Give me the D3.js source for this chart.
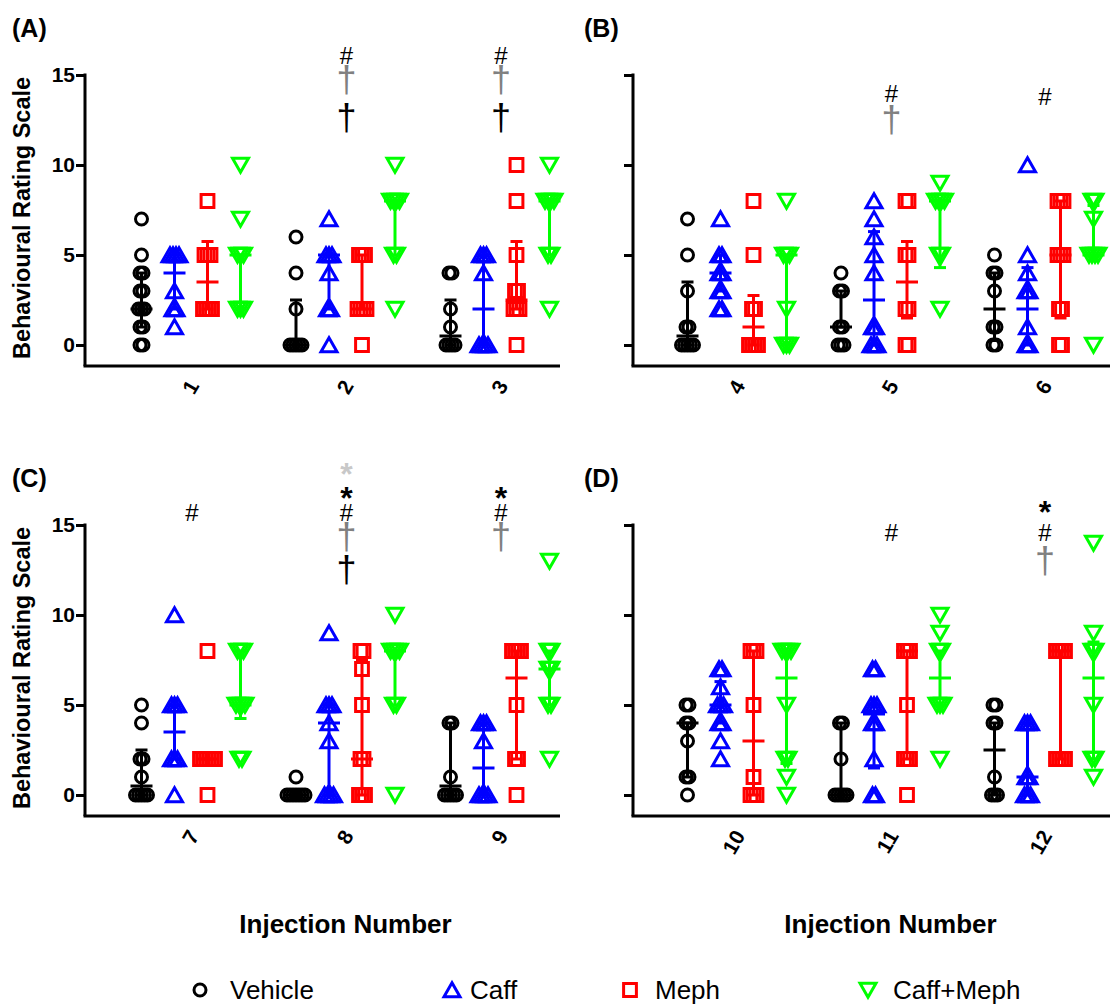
<!DOCTYPE html>
<html><head><meta charset="utf-8">
<script src="https://cdn.jsdelivr.net/npm/d3@7"></script>
<style>body{margin:0;background:#fff}svg{display:block}text{font-family:"Liberation Sans",Arial,sans-serif}</style>
</head><body><svg id="c" width="1118" height="1007"></svg>
<script>
// ---------- DATA ----------
const injections = [1,2,3,4,5,6,7,8,9,10,11,12];
const groups = ["Vehicle","Caff","Meph","Caff+Meph"];
const yTicks = [0,5,10,15];
const panelLabels = ["(A)","(B)","(C)","(D)"];
const xTitle = "Injection Number";
const yTitle = "Behavioural Rating Scale";

const vehicle = [
  [7,5,4,4,3,3,2,2,2,1,1,0,0],
  [6,4,2,0,0,0,0,0],
  [4,4,2,1,0,0,0,0],
  [7,5,3,1,1,0,0,0,0,0],
  [4,3,3,1,1,0,0,0],
  [5,4,4,3,1,1,0,0],
  [5,4,2,2,1,0,0,0,0,0],
  [1,0,0,0,0,0,0,0],
  [4,4,1,0,0,0,0,0],
  [5,5,4,4,3,1,1,0],
  [4,4,2,0,0,0,0,0],
  [5,5,4,4,1,0,0,0]
];
const caff = [
  [5,5,5,5,3,2,2,1],
  [7,5,5,5,4,2,2,0],
  [5,5,5,4,0,0,0,0],
  [7,5,5,4,4,3,3,2,2],
  [8,7,6,5,4,1,1,0,0,0],
  [10,5,4,3,3,1,0,0],
  [10,5,5,5,2,2,2,0],
  [9,5,5,5,4,3,0,0,0,0],
  [4,4,4,3,0,0,0,0],
  [7,7,6,5,5,5,4,4,3,2],
  [7,7,5,5,5,4,4,2,0,0],
  [4,4,4,1,1,0,0,0]
];
const meph = [
  [8,5,5,5,2,2,2,2],
  [5,5,5,2,2,2,2,0],
  [10,8,5,3,3,2,2,2,0],
  [8,5,2,2,0,0,0,0],
  [8,8,5,5,2,2,0,0],
  [8,8,8,5,5,5,2,2,0,0],
  [8,2,2,2,2,2,2,0],
  [8,8,7,5,2,2,0,0,0],
  [8,8,8,8,5,2,2,0],
  [8,8,8,5,1,0,0,0],
  [8,8,8,5,2,2,2,0],
  [8,8,8,8,2,2,2,2]
];
const caffMeph = [
  [10,7,5,5,5,2,2,2],
  [10,8,8,8,8,5,5,2],
  [10,8,8,8,8,5,5,2],
  [8,5,5,5,2,0,0,0],
  [9,8,8,8,8,5,5,2],
  [8,8,7,5,5,5,5,0],
  [8,8,8,5,5,5,5,2,2],
  [10,8,8,8,8,5,5,0],
  [13,8,8,7,7,5,5,2],
  [8,8,8,8,5,2,2,1,0],
  [10,9,8,8,5,5,5,2],
  [14,9,8,8,5,2,2,1]
];
// summary lines: [centre, low, high]
const vehicleStats = [[2,1,4],[0,0,2.5],[0.5,0,2.5],[0.5,0,3.5],[1,1,3],[2,0.25,4],[0.5,0,2.5],[0,0,0],[0.5,0,4],[4,1,4],[0,0,4],[2.5,0,4]];
const caffStats = [[4,2,5],[5,2,5],[2,0,5],[4,3,5],[2.5,0,6.3],[2,0,4.3],[3.5,2,5],[4,0,5],[1.5,0,4],[5,4,6.3],[4.5,1.5,5],[1,0,4]];
const mephStats = [[3.5,2,5.75],[2,2,5],[2.5,2,5.75],[1,0,2.75],[3.5,1.5,5.75],[5,1.5,8],[2,2,2],[2,0,7.5],[6.5,2,8],[3,0,8],[8,2,8],[8,2,8]];
const caffMephStats = [[5,2,5],[8,5,8],[8,5,8],[5,0,5],[8,4.3,8],[5,5,7.75],[5,4.25,8],[8,5,8],[7,5,8],[6.5,1.75,8],[6.5,5,8],[6.5,2,8.5]];

// significance marks: injection, symbol kind, level (axis units)
const markInjection = [2,2,2, 3,3,3, 5,5, 6, 7, 8,8,8,8,8, 9,9,9, 11, 12,12,12];
const markKind      = ["#","†g","†", "#","†g","†", "#","†g", "#", "#", "*l","*","#","†g","†", "*","#","†g", "#", "*","#","†g"];
const markLevel     = [16.1,14.6,12.5, 16.1,14.6,12.5, 14.0,12.4, 13.8, 15.7, 18.2,16.9,15.7,14.2,12.4, 16.9,15.7,14.2, 14.6, 16.1,14.6,12.9];

// ---------- DRAWING ----------
const svg = d3.select("#c");
const colors = ["#000000","#0000ff","#ff0000","#00ff00"];
const seriesVals = [vehicle, caff, meph, caffMeph];
const seriesStats = [vehicleStats, caffStats, mephStats, caffMephStats];
const FONT = '"Liberation Sans",Arial,sans-serif';

const panels = [
  {left:85, right:560, y0:345, y15:75, axisY:366, c0:191, step:154.5, labels:true, px:12, py:37},
  {left:633, right:1110, y0:345, y15:75, axisY:366, c0:737, step:153.5, labels:false, px:584, py:37},
  {left:85, right:560, y0:795, y15:525, axisY:816, c0:191, step:154.5, labels:true, px:12, py:487},
  {left:633, right:1110, y0:795, y15:525, axisY:816, c0:737, step:153.5, labels:false, px:584, py:487}
];

const gOffset = d3.scalePoint().domain(groups).range([-49.5,49.5]);
const SW = 3;

function shapePath(k, s){
  if(k===1) return `M0,${-s*0.9}L${s},${s*0.85}L${-s},${s*0.85}Z`;
  if(k===2) return `M${-s*0.8},${-s*0.8}H${s*0.8}V${s*0.8}H${-s*0.8}Z`;
  return `M0,${s*0.9}L${s},${-s*0.85}L${-s},${-s*0.85}Z`;
}
function drawMarker(g, k, x, y, col){
  if(k===0){
    g.append("circle").attr("cx",x).attr("cy",y).attr("r",6)
      .attr("fill","none").attr("stroke",col).attr("stroke-width",SW);
  } else {
    g.append("path").attr("d",shapePath(k,8)).attr("transform",`translate(${x},${y})`)
      .attr("fill","none").attr("stroke",col).attr("stroke-width",SW).attr("stroke-linejoin","miter");
  }
}

panels.forEach((p,pi)=>{
  const g = svg.append("g");
  const y = d3.scaleLinear().domain([0,15]).range([p.y0,p.y15]);
  const injs = injections.slice(pi*3, pi*3+3);
  const x = d3.scaleLinear().domain([0,1]).range([p.c0, p.c0+p.step]);

  // y axis
  const yAxis = d3.axisLeft(y).tickValues(yTicks).tickSize(9).tickSizeOuter(0)
     .tickFormat(p.labels ? d3.format("d") : "");
  const ya = g.append("g").attr("transform",`translate(${p.left},0)`).call(yAxis);
  ya.select(".domain").attr("d",`M0,${p.y15-1.5}V${p.axisY}`).attr("stroke-width",3);
  ya.selectAll(".tick line").attr("stroke-width",3);
  ya.selectAll(".tick text").attr("font-size",21).attr("font-weight","bold")
     .attr("font-family",FONT).attr("fill","#000").attr("x",-10);

  // x axis
  const xa = g.append("g").attr("transform",`translate(0,${p.axisY})`)
     .call(d3.axisBottom(x).tickValues([0,1,2]).tickSize(0).tickSizeOuter(0)
        .tickFormat(i=>injs[i]));
  xa.select(".domain").attr("d",`M${p.left-1.5},0H${p.right}`).attr("stroke-width",3);
  xa.selectAll(".tick text").attr("font-size",21).attr("font-weight","bold")
     .attr("font-family",FONT).attr("fill","#000")
     .attr("text-anchor","end").attr("dy","0.35em")
     .attr("transform","translate(2,16) rotate(-60)").attr("y",0).attr("x",0);

  if(pi>=2){
    g.append("text").attr("x",p.c0+p.step).attr("y",933).attr("text-anchor","middle")
      .attr("font-size",26).attr("font-weight","bold").text(xTitle);
  }
  if(p.labels){
    g.append("text").attr("transform",`translate(30,${(p.y0+p.y15)/2+8}) rotate(-90)`)
      .attr("text-anchor","middle").attr("font-size",23.5).attr("font-weight","bold").text(yTitle);
  }
  g.append("text").attr("x",p.px).attr("y",p.py).attr("font-size",25).attr("font-weight","bold").text(panelLabels[pi]);

  // points
  injs.forEach((inj,ii)=>{
    const cx = x(ii);
    groups.forEach((gr,gi)=>{
      const vals = seriesVals[gi][inj-1];
      const col = colors[gi];
      const gx = cx + gOffset(gr);
      const counts = d3.rollup(vals, v=>v.length, d=>d);
      const seen = new Map();
      vals.forEach(v=>{
        const k = counts.get(v); const j = seen.get(v)||0; seen.set(v,j+1);
        const off = (j-(k-1)/2)*3;
        drawMarker(g, gi, gx+off, y(v), col);
      });
      const [m,lo,hi] = seriesStats[gi][inj-1];
      g.append("line").attr("x1",gx).attr("x2",gx).attr("y1",y(lo)).attr("y2",y(hi))
        .attr("stroke",col).attr("stroke-width",3);
      [lo,hi].forEach(v=>g.append("line").attr("x1",gx-6).attr("x2",gx+6).attr("y1",y(v)).attr("y2",y(v))
        .attr("stroke",col).attr("stroke-width",3));
      g.append("line").attr("x1",gx-11).attr("x2",gx+11).attr("y1",y(m)).attr("y2",y(m))
        .attr("stroke",col).attr("stroke-width",3);
    });
    // marks
    markInjection.forEach((mi,k)=>{
      if(mi!==inj) return;
      const kind = markKind[k];
      const yy = y(markLevel[k]);
      let txt, fs, fw="normal", fill="#000", dy;
      if(kind[0]==="#"){txt="#"; fs=24; dy=8.5;}
      else if(kind[0]==="†"){txt="†"; fs=36; dy=10; fill = kind==="†g" ? "#808080" : "#000";}
      else {txt="*"; fs=32; fw="bold"; dy=18; fill = kind==="*l" ? "#c8c8c8" : "#000";}
      g.append("text").attr("x",cx+1).attr("y",yy+dy).attr("text-anchor","middle")
        .attr("font-size",fs).attr("font-weight",fw).attr("fill",fill).text(txt);
    });
  });
});

// legend
const legX = [200,452,630,868];
const legTX = [230,470,655,893];
groups.forEach((gr,gi)=>{
  const lg = svg.append("g");
  drawMarker(lg, gi, legX[gi], 990, colors[gi]);
  lg.append("text").attr("x",legTX[gi]).attr("y",999).attr("font-size",26).text(gr);
});
</script></body></html>
